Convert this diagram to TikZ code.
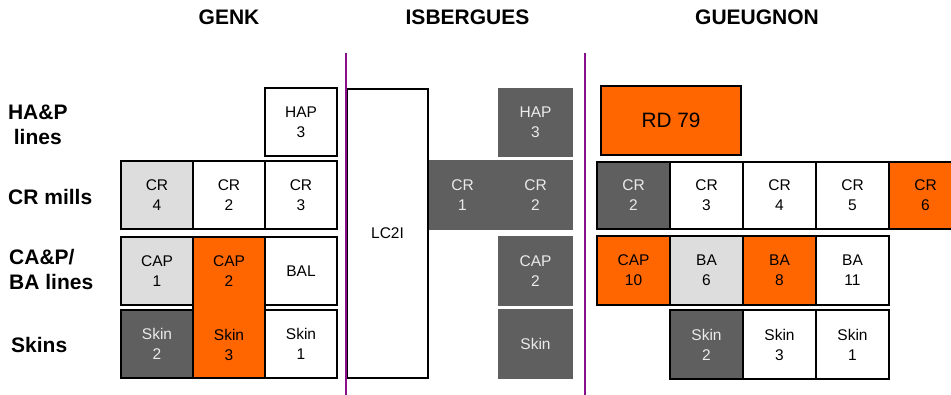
\documentclass[tikz,border=0pt]{standalone}
\usepackage{fontspec}
\setmainfont{Liberation Sans}
\definecolor{orng}{RGB}{255,102,0}
\definecolor{lgry}{RGB}{221,221,221}
\definecolor{dgry}{RGB}{95,95,95}
\definecolor{prpl}{RGB}{136,16,140}
\newcommand\bxfont{\fontsize{15.5}{20}\selectfont}
\newcommand\lbfont{\fontsize{21}{25}\selectfont\bfseries}
\begin{document}
\begin{tikzpicture}[x=1pt,y=-1pt,
  cell/.style={rectangle, draw=black, line width=2.2pt, inner sep=0pt, outer sep=0pt,
    align=center, font=\bxfont, text=black, fill=white},
  lcell/.style={cell, fill=lgry},
  ocell/.style={cell, fill=orng},
  dcell/.style={cell, fill=dgry, text=white!92!black},
  icell/.style={cell, draw=none, fill=dgry, text=white!92!black},
  sz/.style n args={2}{minimum width=#1pt, minimum height=#2pt},
  txt/.style={inner sep=0pt, outer sep=0pt, align=center, font=\bxfont},
  ttl/.style={inner sep=0pt, font=\lbfont},
  rowlbl/.style={inner sep=0pt, font=\lbfont},
  divider/.style={draw=prpl, line width=2.6pt}
]
\useasboundingbox (0,0) rectangle (951,395);
\clip (0,0) rectangle (951,395);

% titles
\node[ttl] (tgenk) at (229,17) {GENK};
\node[ttl] (tisb) at (467.5,17) {ISBERGUES};
\node[ttl] (tgue) at (757,17) {GUEUGNON};

% row labels
\node[rowlbl, align=center] (lhap) at (37.8,124.5) {HA\&P\\lines};
\node[rowlbl, anchor=west] (lcr) at (8,197) {CR mills};
\node[rowlbl, anchor=west, align=left] (lcap) at (9,269.5) {CA\&P/\\BA lines};
\node[rowlbl, anchor=west] (lskin) at (11,345) {Skins};

% GENK
\node[cell, sz={72}{68}] (ghap) at (301,122) {HAP\\3};
\node[lcell, sz={72}{68}] (gcr4) at (157,195) {CR\\4};
\node[cell, sz={72}{68}] (gcr2) at (229,195) {CR\\2};
\node[cell, sz={72}{68}] (gcr3) at (301,195) {CR\\3};
\node[lcell, sz={72}{68}] (gcap1) at (157,271) {CAP\\1};
\node[ocell, sz={72}{141}] (gbig) at (229,307.5) {};
\node[txt] (gcap2) at (229,271) {CAP\\2};
\node[txt] (gskin3) at (229,345) {Skin\\3};
\node[cell, sz={72}{68}] (gbal) at (301,271) {BAL};
\node[dcell, sz={72}{68}] (gskin2) at (157,344) {Skin\\2};
\node[cell, sz={72}{68}] (gskin1) at (301,344) {Skin\\1};

% ISBERGUES
\node[icell, sz={71}{70}] (icr1) at (462.5,195) {CR\\1};
\node[icell, sz={75}{70}] (icr2) at (535.5,195) {CR\\2};
\node[cell, sz={81}{289}] (lc2i) at (387.5,233.5) {LC2I};
\node[icell, sz={75}{69}] (ihap) at (535.5,122.5) {HAP\\3};
\node[icell, sz={75}{70}] (icap) at (535.5,271) {CAP\\2};
\node[icell, sz={75}{70}] (iskin) at (535.5,344) {Skin};

% GUEUGNON
\node[ocell, sz={140}{69}, font=\fontsize{20.8}{24}\selectfont] (rd79) at (671,120.5) {RD 79};
\node[dcell, sz={73}{67}] (qcr2) at (633.5,195.5) {CR\\2};
\node[cell, sz={73}{67}] (qcr3) at (706.5,195.5) {CR\\3};
\node[cell, sz={73}{67}] (qcr4) at (779.5,195.5) {CR\\4};
\node[cell, sz={73}{67}] (qcr5) at (852.5,195.5) {CR\\5};
\node[ocell, sz={73}{67}] (qcr6) at (925.5,195.5) {CR\\6};
\node[ocell, sz={73}{69}] (qcap10) at (633.5,270.5) {CAP\\10};
\node[lcell, sz={73}{69}] (qba6) at (706.5,270.5) {BA\\6};
\node[ocell, sz={73}{69}] (qba8) at (779.5,270.5) {BA\\8};
\node[cell, sz={73}{69}] (qba11) at (852.5,270.5) {BA\\11};
\node[dcell, sz={73}{69}] (qskin2) at (706.5,344.5) {Skin\\2};
\node[cell, sz={73}{69}] (qskin3) at (779.5,344.5) {Skin\\3};
\node[cell, sz={73}{69}] (qskin1) at (852.5,344.5) {Skin\\1};

% dividers
\coordinate (d1top) at (346,53);
\coordinate (d1bot) at (346,396);
\coordinate (d2top) at (585,53);
\coordinate (d2bot) at (585,396);
\draw[divider] (d1top) -- (d1bot);
\draw[divider] (d2top) -- (d2bot);
\end{tikzpicture}
\end{document}
